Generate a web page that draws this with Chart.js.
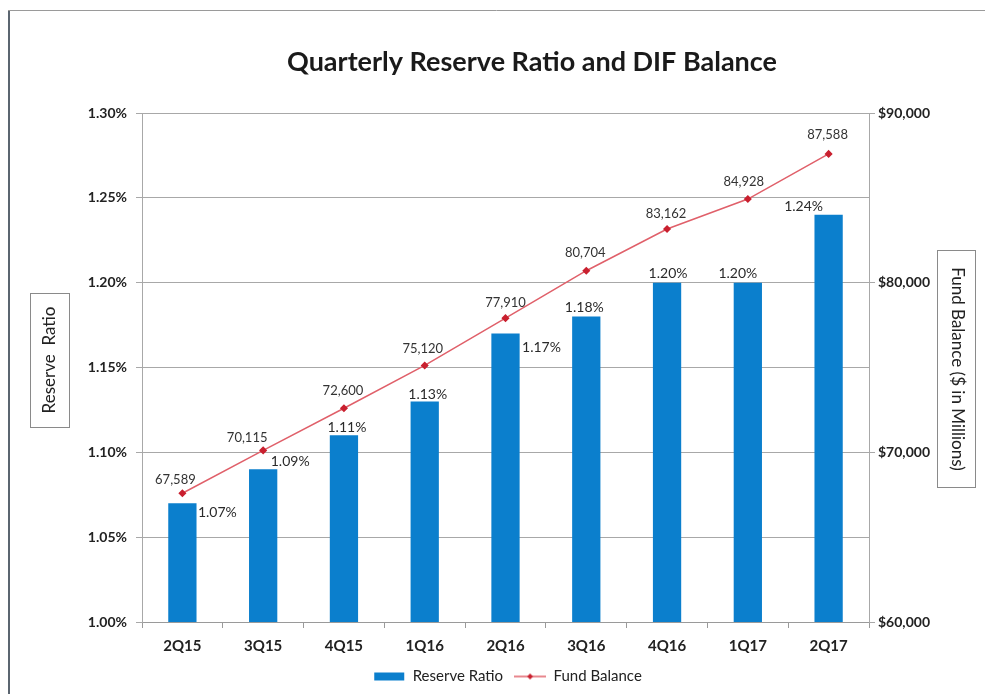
<!DOCTYPE html>
<html>
<head>
<meta charset="utf-8">
<script src="https://cdn.jsdelivr.net/npm/chart.js@4.4.1/dist/chart.umd.min.js"></script>
<style>
  html, body { margin: 0; padding: 0; background: #ffffff; }
  #wrap { position: relative; width: 985px; height: 694px; }
  canvas { display: block; }
</style>
</head>
<body>
<div id="wrap"><canvas id="c" width="985" height="694"></canvas></div>
<script>
// ---- data ----
const quarters = ['2Q15', '3Q15', '4Q15', '1Q16', '2Q16', '3Q16', '4Q16', '1Q17', '2Q17'];
const reserveRatio = [1.07, 1.09, 1.11, 1.13, 1.17, 1.18, 1.20, 1.20, 1.24];
const fundBalance = [67589, 70115, 72600, 75120, 77910, 80704, 83162, 84928, 87588];
const ratioTicks = [1.00, 1.05, 1.10, 1.15, 1.20, 1.25, 1.30];
const balanceTicks = [60000, 70000, 80000, 90000];
const chartTitle = 'Quarterly Reserve Ratio and DIF Balance';

// ---- label placement styles (pixel offsets from each mark) ----
const ratioLabelOffsets = [[35, 9], [27, -8], [3, -8], [3, -7], [36, 14], [-2, -9], [1, -9], [-10, -9], [-25, -8]];
const balanceLabelOffsets = [[-7, -13], [-16, -13], [-1, -17], [-2, -17], [0, -15], [-1, -18], [-1, -15], [-4, -17], [-1, -19]];

const FONT = 'Lato, "Open Sans", sans-serif';
const BAR_COLOR = '#0b7fcd';
const LINE_COLOR = '#e0606a';
const POINT_COLOR = '#c9202f';

function legendIcon(kind) {
  const cv = document.createElement('canvas');
  cv.width = 32; cv.height = 10;
  const g = cv.getContext('2d');
  if (kind === 'bar') {
    g.fillStyle = BAR_COLOR;
    g.fillRect(1, 1, 30, 8);
  } else {
    g.strokeStyle = LINE_COLOR;
    g.lineWidth = 1.5;
    g.beginPath(); g.moveTo(0, 5); g.lineTo(32, 5); g.stroke();
    g.fillStyle = POINT_COLOR;
    g.beginPath(); g.moveTo(16, 2); g.lineTo(19, 5); g.lineTo(16, 8); g.lineTo(13, 5); g.closePath(); g.fill();
  }
  return cv;
}

const decorPlugin = {
  id: 'decor',
  beforeDraw(chart) {
    const ctx = chart.ctx;
    ctx.save();
    ctx.fillStyle = '#ffffff';
    ctx.fillRect(0, 0, chart.width, chart.height);
    // frame
    ctx.strokeStyle = '#5b6570'; ctx.lineWidth = 2;
    ctx.beginPath(); ctx.moveTo(9, 10); ctx.lineTo(9, chart.height); ctx.stroke();
    ctx.strokeStyle = '#9a9a9a'; ctx.lineWidth = 1;
    ctx.beginPath(); ctx.moveTo(8, 10.5); ctx.lineTo(chart.width, 10.5); ctx.stroke();
    // title
    ctx.fillStyle = '#1a1a1a';
    ctx.font = 'bold 27px ' + FONT;
    ctx.textAlign = 'center'; ctx.textBaseline = 'middle';
    ctx.fillText(chartTitle, 532, 62);
    ctx.restore();
  },
  afterDraw(chart) {
    const ctx = chart.ctx;
    ctx.save();
    // left axis title box
    ctx.strokeStyle = '#8a8a8a'; ctx.lineWidth = 1;
    ctx.strokeRect(30.5, 293.5, 39, 134);
    ctx.fillStyle = '#222';
    ctx.font = '17px ' + FONT;
    ctx.textAlign = 'center'; ctx.textBaseline = 'middle';
    ctx.translate(50, 360); ctx.rotate(-Math.PI / 2);
    ctx.fillText('Reserve  Ratio', 0, 0);
    ctx.restore();
    ctx.save();
    ctx.strokeStyle = '#8a8a8a'; ctx.lineWidth = 1;
    ctx.strokeRect(937.5, 250.5, 38, 237);
    ctx.fillStyle = '#222';
    ctx.font = '17px ' + FONT;
    ctx.textAlign = 'center'; ctx.textBaseline = 'middle';
    ctx.translate(957, 369); ctx.rotate(Math.PI / 2);
    ctx.fillText('Fund Balance ($ in Millions)', 0, 0);
    ctx.restore();
  },
  afterDatasetsDraw(chart) {
    const ctx = chart.ctx;
    ctx.save();
    ctx.textAlign = 'center'; ctx.textBaseline = 'middle';
    const barMeta = chart.getDatasetMeta(1);
    ctx.font = '14px ' + FONT; ctx.fillStyle = '#2a2a2a';
    barMeta.data.forEach((el, i) => {
      const o = ratioLabelOffsets[i];
      ctx.fillText(reserveRatio[i].toFixed(2) + '%', el.x + o[0], el.y + o[1]);
    });
    const lineMeta = chart.getDatasetMeta(0);
    ctx.font = '13px ' + FONT; ctx.fillStyle = '#333';
    lineMeta.data.forEach((el, i) => {
      const o = balanceLabelOffsets[i];
      ctx.fillText(fundBalance[i].toLocaleString('en-US'), el.x + o[0], el.y + o[1]);
    });
    ctx.restore();
  }
};

new Chart(document.getElementById('c'), {
  type: 'bar',
  data: {
    labels: quarters,
    datasets: [
      {
        type: 'line',
        label: 'Fund Balance',
        data: fundBalance,
        yAxisID: 'y1',
        borderColor: LINE_COLOR,
        borderWidth: 1.5,
        pointStyle: 'rectRot',
        pointRadius: 3,
        pointBackgroundColor: POINT_COLOR,
        pointBorderColor: POINT_COLOR,
        tension: 0,
        order: 0
      },
      {
        type: 'bar',
        label: 'Reserve Ratio',
        data: reserveRatio,
        yAxisID: 'y',
        backgroundColor: BAR_COLOR,
        categoryPercentage: 1,
        barPercentage: 0.35,
        order: 1
      }
    ]
  },
  options: {
    responsive: false,
    animation: false,
    devicePixelRatio: 1,
    layout: { padding: { left: 30, right: 0, top: 113, bottom: 0 } },
    plugins: {
      title: { display: false },
      legend: {
        position: 'bottom',
        labels: {
          color: '#222',
          font: { family: FONT, size: 15 },
          usePointStyle: true,
          pointStyleWidth: 32,
          padding: 11,
          generateLabels(chart) {
            return [
              { text: 'Reserve Ratio', pointStyle: legendIcon('bar'), fillStyle: BAR_COLOR, strokeStyle: BAR_COLOR, lineWidth: 0, datasetIndex: 1, fontColor: '#222' },
              { text: 'Fund Balance', pointStyle: legendIcon('line'), fillStyle: POINT_COLOR, strokeStyle: LINE_COLOR, lineWidth: 0, datasetIndex: 0, fontColor: '#222' }
            ];
          }
        }
      },
      tooltip: { enabled: false }
    },
    scales: {
      x: {
        offset: true,
        grid: { display: true, drawOnChartArea: false, offset: true, tickLength: 6, color: '#9a9a9a' },
        border: { color: '#9a9a9a' },
        ticks: { color: '#222', font: { family: FONT, size: 15, weight: 'bold' }, padding: 9 },
        afterFit(s) { s.height = 36; }
      },
      y: {
        position: 'left',
        min: 1.0, max: 1.3,
        afterBuildTicks(s) { s.ticks = ratioTicks.map(v => ({ value: v })); },
        grid: { color: '#a8a8a8', tickLength: 6 },
        border: { color: '#a8a8a8' },
        ticks: {
          color: '#222', font: { family: FONT, size: 14, weight: 'bold' }, padding: 9,
          callback: v => Number(v).toFixed(2) + '%'
        },
        afterFit(s) { s.width = 112; }
      },
      y1: {
        position: 'right',
        min: 60000, max: 90000,
        afterBuildTicks(s) { s.ticks = balanceTicks.map(v => ({ value: v })); },
        grid: { drawOnChartArea: false, color: '#a8a8a8', tickLength: 6 },
        border: { color: '#a8a8a8' },
        ticks: {
          color: '#222', font: { family: FONT, size: 14, weight: 'bold' }, padding: 3,
          callback: v => '$' + Number(v).toLocaleString('en-US')
        },
        afterFit(s) { s.width = 116; }
      }
    }
  },
  plugins: [decorPlugin]
});
</script>
</body>
</html>
